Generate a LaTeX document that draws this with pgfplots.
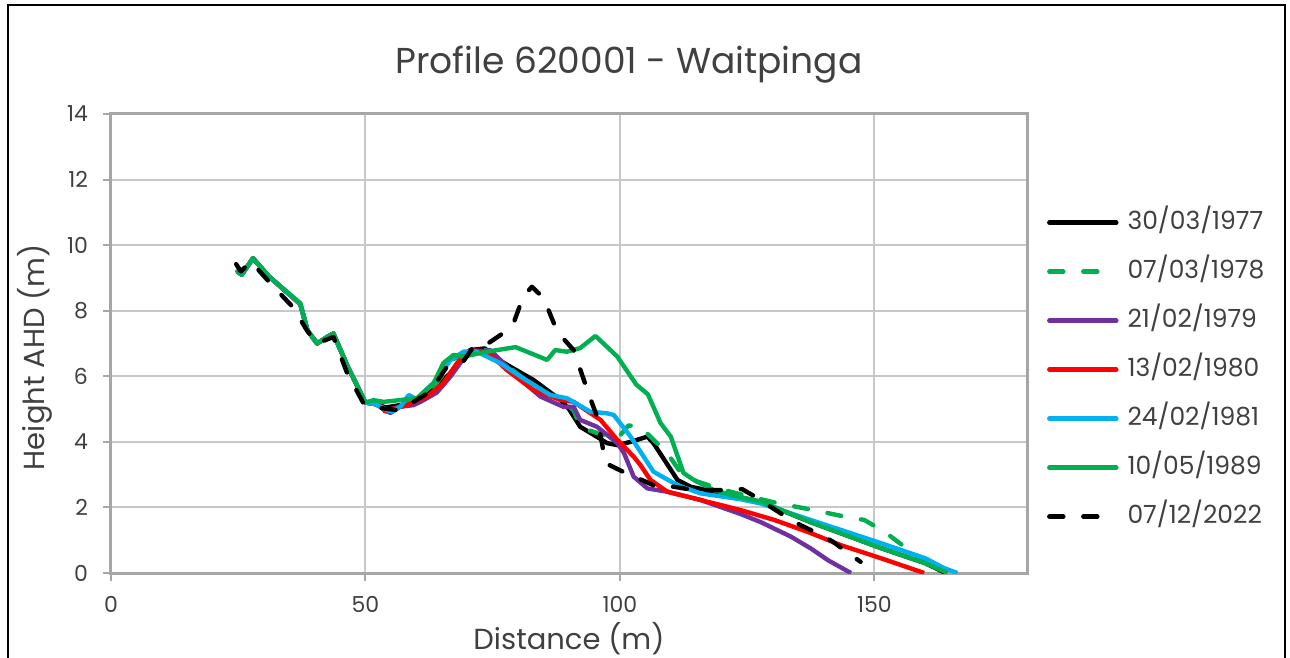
\documentclass[border=0pt]{standalone}
\usepackage{pgfplots}
\pgfplotsset{compat=1.18}
\usepackage{fontspec}
\setmainfont{Poppins}
\definecolor{cgreen}{HTML}{00B050}
\definecolor{cpurple}{HTML}{7030A0}
\definecolor{cred}{HTML}{FF0000}
\definecolor{cblue}{HTML}{00B0F0}
\definecolor{gridgray}{HTML}{C8C8C8}
\definecolor{axgray}{HTML}{A6A6A6}
\definecolor{txt}{HTML}{404040}
\begin{document}
\begin{tikzpicture}
\useasboundingbox (-55.5bp,-42.5bp) rectangle (589.5bp,286.5bp);
\draw[black, line width=1bp] (-51.5bp,-60bp) rectangle (587bp,284bp);
\node[font=\fontsize{18bp}{21bp}\selectfont, color=txt] at (259bp,254bp) {Profile 620001 - Waitpinga};
\begin{axis}[
  at={(0,0)}, anchor=south west,
  scale only axis, width=458bp, height=229.5bp,
  xmin=0, xmax=180, ymin=0, ymax=14,
  xtick={0,50,100,150}, ytick={0,2,...,14},
  grid=major, major grid style={color=gridgray, line width=1bp},
  axis line style={color=axgray, line width=1.5bp},
  tick style={color=axgray, line width=1bp},
  tick align=outside, major tick length=4bp, tick pos=left,
  /pgf/number format/assume math mode=true,
  ticklabel style={font=\fontsize{11bp}{13bp}\selectfont, color=txt},
  yticklabel style={xshift=-4bp},
  xticklabel style={yshift=-4bp},
  xlabel={Distance (m)}, ylabel={Height AHD (m)},
  label style={font=\fontsize{14.5bp}{16bp}\selectfont, color=txt},
  xlabel style={at={(axis description cs:0.5,-0.142)}, anchor=center},
  ylabel style={at={(axis description cs:-0.083,0.47)}, anchor=center},
  every axis plot/.append style={line width=2.2bp, line join=round},
  legend cell align=left,
  legend image code/.code={\draw[#1, line cap=round] (0bp,0bp) -- (33.5bp,0bp);},
  legend style={draw=none, fill=none, at={(1.015,0.443)}, anchor=west,
    font=\fontsize{12.5bp}{15bp}\selectfont, text=txt, row sep=9bp,
    nodes={text height=9bp, text depth=2.5bp, inner sep=2bp},
    /tikz/every odd column/.style={column sep=2.5bp}},
]
% 30/03/1977
\addplot[black] coordinates {(24.8,9.2) (25.7,9.1) (27.9,9.6) (31.0,9.05) (37.2,8.2) (38.6,7.4) (40.5,7.0) (42.5,7.2) (43.7,7.3) (46.5,6.3) (50.0,5.2) (52.0,5.15) (54,5.05) (58,5.15) (62,5.4) (64,5.7) (66.7,6.1) (68.6,6.5) (70.6,6.8) (73.5,6.85) (75.1,6.6) (78.5,6.29) (83,5.89) (88.3,5.28) (90,5.0) (92.2,4.46) (95,4.2) (97.5,3.96) (99.5,3.9) (102.1,4.0) (105.4,4.16) (106.6,3.96) (111.3,2.84) (113.9,2.63) (118,2.5) (127.7,2.17) (137.5,1.55) (151.3,0.76) (160,0.3) (164,0)};
\addlegendentry{30/03/1977}
% 07/03/1978
\addplot[cgreen, dash pattern=on 7bp off 10bp, line cap=round] coordinates {(24.8,9.2) (25.7,9.1) (27.9,9.6) (31.0,9.05) (37.2,8.2) (38.6,7.4) (40.5,7.0) (42.5,7.2) (43.7,7.3) (46.5,6.3) (50.0,5.2) (52.0,5.15) (54,5.0) (58,5.2) (62,5.4) (65,6.0) (67,6.5) (70,6.75) (74,6.8) (78,6.3) (83,5.7) (88,5.3) (90.9,4.97) (92.2,4.46) (94,4.35) (96.8,4.2) (99.5,4.1) (101.7,4.5) (104,4.46) (107.3,3.96) (109.3,3.66) (112,3.05) (115,2.8) (120,2.55) (125,2.35) (131,2.13) (138,1.92) (145.4,1.68) (148,1.62) (152,1.26) (154.2,1.0) (157.2,0.65) (160.5,0.25)};
\addlegendentry{07/03/1978}
% 21/02/1979
\addplot[cpurple] coordinates {(24.8,9.2) (25.7,9.1) (27.9,9.6) (31.0,9.05) (37.2,8.2) (38.6,7.4) (40.5,7.0) (42.5,7.2) (43.7,7.3) (46.5,6.3) (50.0,5.2) (52.0,5.15) (54.9,4.88) (56.8,5.07) (59.4,5.12) (60.8,5.22) (64,5.5) (66.7,5.99) (70,6.7) (74.5,6.8) (76.5,6.5) (79.8,5.99) (84.4,5.38) (88.9,5.07) (90.9,5.07) (92.2,4.67) (95.5,4.46) (99.5,3.96) (100.8,3.66) (102.7,2.94) (105.4,2.58) (109.3,2.48) (115.8,2.23) (123.7,1.8) (127.7,1.55) (133.6,1.11) (137.5,0.75) (141,0.38) (145.4,0)};
\addlegendentry{21/02/1979}
% 13/02/1980
\addplot[cred] coordinates {(24.8,9.2) (25.7,9.1) (27.9,9.6) (31.0,9.05) (37.2,8.2) (38.6,7.4) (40.5,7.0) (42.5,7.2) (43.7,7.3) (46.5,6.3) (50.0,5.2) (52.0,5.15) (53.2,5.07) (53.9,4.92) (55,5.0) (58.1,5.12) (62.1,5.38) (65.3,5.79) (68,6.4) (70.6,6.8) (73.9,6.75) (77.8,6.19) (83,5.58) (88.3,5.28) (90.9,5.22) (96.2,4.67) (99.5,4.06) (102.7,3.55) (104,3.3) (106,2.84) (109.3,2.48) (115.8,2.23) (123.7,1.92) (130.3,1.62) (136.8,1.26) (143.4,0.85) (151.3,0.45) (159.8,0)};
\addlegendentry{13/02/1980}
% 24/02/1981
\addplot[cblue] coordinates {(24.8,9.2) (25.7,9.1) (27.9,9.6) (31.0,9.05) (37.2,8.2) (38.6,7.4) (40.5,7.0) (42.5,7.2) (43.7,7.3) (46.5,6.3) (50.0,5.2) (52.0,5.15) (54.2,4.97) (55.2,4.92) (57,5.1) (58.5,5.43) (60,5.3) (64,5.89) (66.7,6.5) (69.3,6.75) (71.9,6.75) (76.5,6.4) (81,5.94) (86.3,5.43) (89.6,5.33) (94.2,4.92) (97.5,4.87) (98.8,4.82) (102.1,4.16) (106.6,3.09) (111.3,2.68) (115.8,2.43) (123.7,2.25) (127.7,2.12) (151.3,0.91) (160,0.45) (163.7,0.15) (166.3,0)};
\addlegendentry{24/02/1981}
% 10/05/1989
\addplot[cgreen] coordinates {(24.8,9.2) (25.7,9.1) (27.9,9.6) (31.0,9.05) (37.2,8.23) (38.6,7.4) (40.5,7.0) (43.7,7.31) (46.5,6.3) (50,5.2) (51.6,5.27) (53.6,5.22) (60.1,5.33) (63.4,5.79) (65.3,6.4) (67.3,6.65) (69.3,6.6) (73.9,6.75) (79.5,6.89) (85.7,6.5) (87.3,6.8) (89.6,6.75) (92.2,6.86) (95.2,7.23) (99.5,6.6) (103.2,5.75) (105.5,5.45) (108,4.57) (110,4.16) (112.5,3.05) (114.5,2.84) (118.4,2.53) (123.1,2.33) (127.7,2.18) (137.5,1.55) (151.3,0.76) (160,0.3) (164.4,0)};
\addlegendentry{10/05/1989}
% 07/12/2022
\addplot[black, dash pattern=on 7bp off 10bp, line cap=round] coordinates {(24.6,9.42) (25.5,9.2) (27.5,9.5) (31.3,8.84) (35.8,8.1) (38.5,7.4) (40.5,7.0) (43.7,7.2) (46.4,6.1) (49.6,5.18) (51.3,5.06) (56.2,4.97) (58.4,5.12) (62.7,5.53) (66,6.29) (69,6.4) (71.2,6.9) (73.6,6.95) (77.1,7.32) (79.1,7.62) (81,8.43) (82.7,8.73) (85,8.39) (87.7,7.36) (90.9,6.8) (93.8,5.49) (95.5,4.77) (97.2,3.35) (101.1,3.05) (103.4,2.9) (107.3,2.63) (110.6,2.63) (114.5,2.53) (121.1,2.53) (124,2.56) (127,2.29) (129.6,2.02) (133.6,1.62) (135.5,1.46) (139.5,1.16) (141.8,0.96) (145.4,0.55) (147.3,0.34)};
\addlegendentry{07/12/2022}
\end{axis}
\end{tikzpicture}
\end{document}
